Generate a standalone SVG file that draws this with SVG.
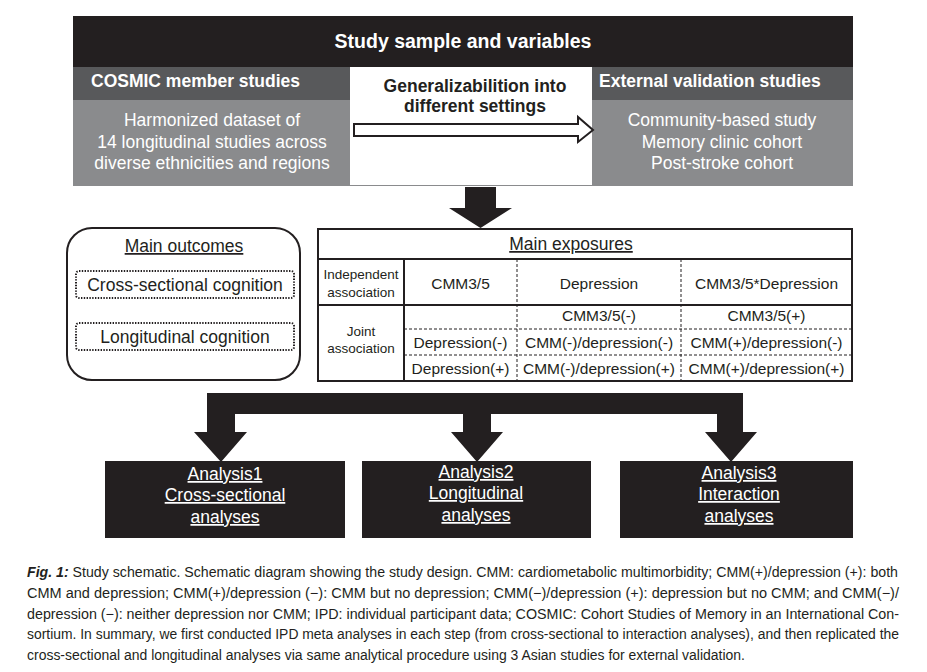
<svg xmlns="http://www.w3.org/2000/svg" width="927" height="672" viewBox="0 0 927 672">
<style>
text{font-family:"Liberation Sans",Arial,sans-serif;}
.hb{font-weight:bold;fill:#fff;}
.wt{fill:#fff;font-size:17.5px;}
.bk{fill:#231f20;}
.t15{font-size:15.5px;fill:#231f20;}
.t13{font-size:13.5px;fill:#231f20;}
.t17{font-size:17.5px;fill:#231f20;}
.u{text-decoration:underline;}
.cap{font-size:14px;fill:#231f20;}
.dash{stroke:#231f20;stroke-width:1;stroke-dasharray:3 2;fill:none;}
.solid{stroke:#231f20;stroke-width:2;fill:none;}
.dot{stroke:#231f20;stroke-width:2;stroke-dasharray:1.4 1.4;fill:#fff;}
</style>
<rect width="927" height="672" fill="#fff"/>
<g id="study-sample">
<rect x="73" y="16" width="780" height="52" fill="#231f20"/>
<text x="463" y="48" text-anchor="middle" class="hb" font-size="19.5">Study sample and variables</text>
<rect x="73" y="67" width="780" height="119" fill="#8a8b8d"/>
<rect x="73" y="67" width="780" height="33" fill="#58595b"/>
<rect x="350" y="67" width="242" height="118" fill="#fff"/>
</g>
<g id="cosmic">
<text x="91" y="87" class="hb" font-size="17.5">COSMIC member studies</text>
<text x="212" y="126" text-anchor="middle" class="wt">Harmonized dataset of</text>
<text x="212" y="148" text-anchor="middle" class="wt">14 longitudinal studies across</text>
<text x="212" y="169" text-anchor="middle" class="wt">diverse ethnicities and regions</text>
</g>
<g id="generalizability">
<text x="475" y="92" text-anchor="middle" font-weight="bold" font-size="17.5" class="bk">Generalizabilition into</text>
<text x="475" y="112" text-anchor="middle" font-weight="bold" font-size="17.5" class="bk">different settings</text>
</g>
<g id="external">
<text x="599" y="87" class="hb" font-size="17.5">External validation studies</text>
<text x="722" y="126" text-anchor="middle" class="wt">Community-based study</text>
<text x="722" y="148" text-anchor="middle" class="wt">Memory clinic cohort</text>
<text x="722" y="169" text-anchor="middle" class="wt">Post-stroke cohort</text>
</g>
<g id="main-outcomes">
<rect x="67" y="228" width="233" height="152" rx="25" ry="25" class="solid"/>
<text x="184" y="252" text-anchor="middle" class="t17 u">Main outcomes</text>
<rect x="76" y="271" width="218" height="27" rx="3" class="dot"/>
<text x="185" y="291" text-anchor="middle" class="t17">Cross-sectional cognition</text>
<rect x="76" y="323" width="218" height="27" rx="3" class="dot"/>
<text x="185" y="343" text-anchor="middle" class="t17">Longitudinal cognition</text>
</g>
<g id="main-exposures">
<rect x="318" y="229" width="534" height="152" fill="#fff" class="solid"/>
<line x1="318" y1="259" x2="852" y2="259" class="solid"/>
<line x1="318" y1="305" x2="852" y2="305" class="solid"/>
<line x1="404" y1="259" x2="404" y2="381" class="solid"/>
<line x1="517" y1="259" x2="517" y2="381" class="dash"/>
<line x1="681" y1="259" x2="681" y2="381" class="dash"/>
<line x1="404" y1="329" x2="852" y2="329" class="dash"/>
<line x1="404" y1="355" x2="852" y2="355" class="dash"/>
<text x="571" y="250" text-anchor="middle" class="t17 u">Main exposures</text>
<text x="361" y="279" text-anchor="middle" class="t13">Independent</text>
<text x="361" y="297" text-anchor="middle" class="t13">association</text>
<text x="460.5" y="288.5" text-anchor="middle" class="t15">CMM3/5</text>
<text x="599" y="288.5" text-anchor="middle" class="t15">Depression</text>
<text x="766.5" y="288.5" text-anchor="middle" class="t15">CMM3/5*Depression</text>
<text x="361" y="336" text-anchor="middle" class="t13">Joint</text>
<text x="361" y="353" text-anchor="middle" class="t13">association</text>
<text x="599" y="320.5" text-anchor="middle" class="t15">CMM3/5(-)</text>
<text x="766.5" y="320.5" text-anchor="middle" class="t15">CMM3/5(+)</text>
<text x="460.5" y="347.5" text-anchor="middle" class="t15">Depression(-)</text>
<text x="599" y="347.5" text-anchor="middle" class="t15">CMM(-)/depression(-)</text>
<text x="766.5" y="347.5" text-anchor="middle" class="t15">CMM(+)/depression(-)</text>
<text x="460.5" y="373.5" text-anchor="middle" class="t15">Depression(+)</text>
<text x="599" y="373.5" text-anchor="middle" class="t15">CMM(-)/depression(+)</text>
<text x="766.5" y="373.5" text-anchor="middle" class="t15">CMM(+)/depression(+)</text>
</g>
<g id="analysis1">
<rect x="105" y="461" width="240" height="77" fill="#231f20"/>
<text x="225" y="480" text-anchor="middle" class="wt u">Analysis1</text>
<text x="225" y="501" text-anchor="middle" class="wt u">Cross-sectional</text>
<text x="225" y="523" text-anchor="middle" class="wt u">analyses</text>
</g>
<g id="analysis2">
<rect x="362" y="461" width="229" height="77" fill="#231f20"/>
<text x="476" y="478" text-anchor="middle" class="wt u">Analysis2</text>
<text x="476" y="499" text-anchor="middle" class="wt u">Longitudinal</text>
<text x="476" y="521" text-anchor="middle" class="wt u">analyses</text>
</g>
<g id="analysis3">
<rect x="620" y="461" width="233" height="77" fill="#231f20"/>
<text x="739" y="479" text-anchor="middle" class="wt u">Analysis3</text>
<text x="739" y="500" text-anchor="middle" class="wt u">Interaction</text>
<text x="739" y="522" text-anchor="middle" class="wt u">analyses</text>
</g>
<g id="connectors">
<polygon points="354,124 578,124 578,117 593,130 578,142 578,136 354,136" fill="#fff" stroke="#231f20" stroke-width="2"/>
<polygon points="465,187 496,187 496,208 512,208 480.5,228 449,208 465,208" fill="#231f20"/>
<polygon points="207,393 743,393 743,432 757,432 731,462 705,432 717,432 717,414 491,414 491,432 503,432 477,462 451,432 463,432 463,414 235,414 235,432 247,432 221,462 194,432 207,432" fill="#231f20"/>
</g>
<g id="caption">
<text x="27" y="577" class="cap" textLength="871" lengthAdjust="spacingAndGlyphs"><tspan font-weight="bold" font-style="italic">Fig. 1:</tspan> Study schematic. Schematic diagram showing the study design. CMM: cardiometabolic multimorbidity; CMM(+)/depression (+): both</text>
<text x="27" y="598" class="cap" textLength="872" lengthAdjust="spacingAndGlyphs">CMM and depression; CMM(+)/depression (−): CMM but no depression; CMM(−)/depression (+): depression but no CMM; and CMM(−)/</text>
<text x="27" y="619" class="cap" textLength="872" lengthAdjust="spacingAndGlyphs">depression (−): neither depression nor CMM; IPD: individual participant data; COSMIC: Cohort Studies of Memory in an International Con-</text>
<text x="27" y="639" class="cap" textLength="872" lengthAdjust="spacingAndGlyphs">sortium. In summary, we first conducted IPD meta analyses in each step (from cross-sectional to interaction analyses), and then replicated the</text>
<text x="27" y="660" class="cap" textLength="718" lengthAdjust="spacingAndGlyphs">cross-sectional and longitudinal analyses via same analytical procedure using 3 Asian studies for external validation.</text>
</g>
</svg>
